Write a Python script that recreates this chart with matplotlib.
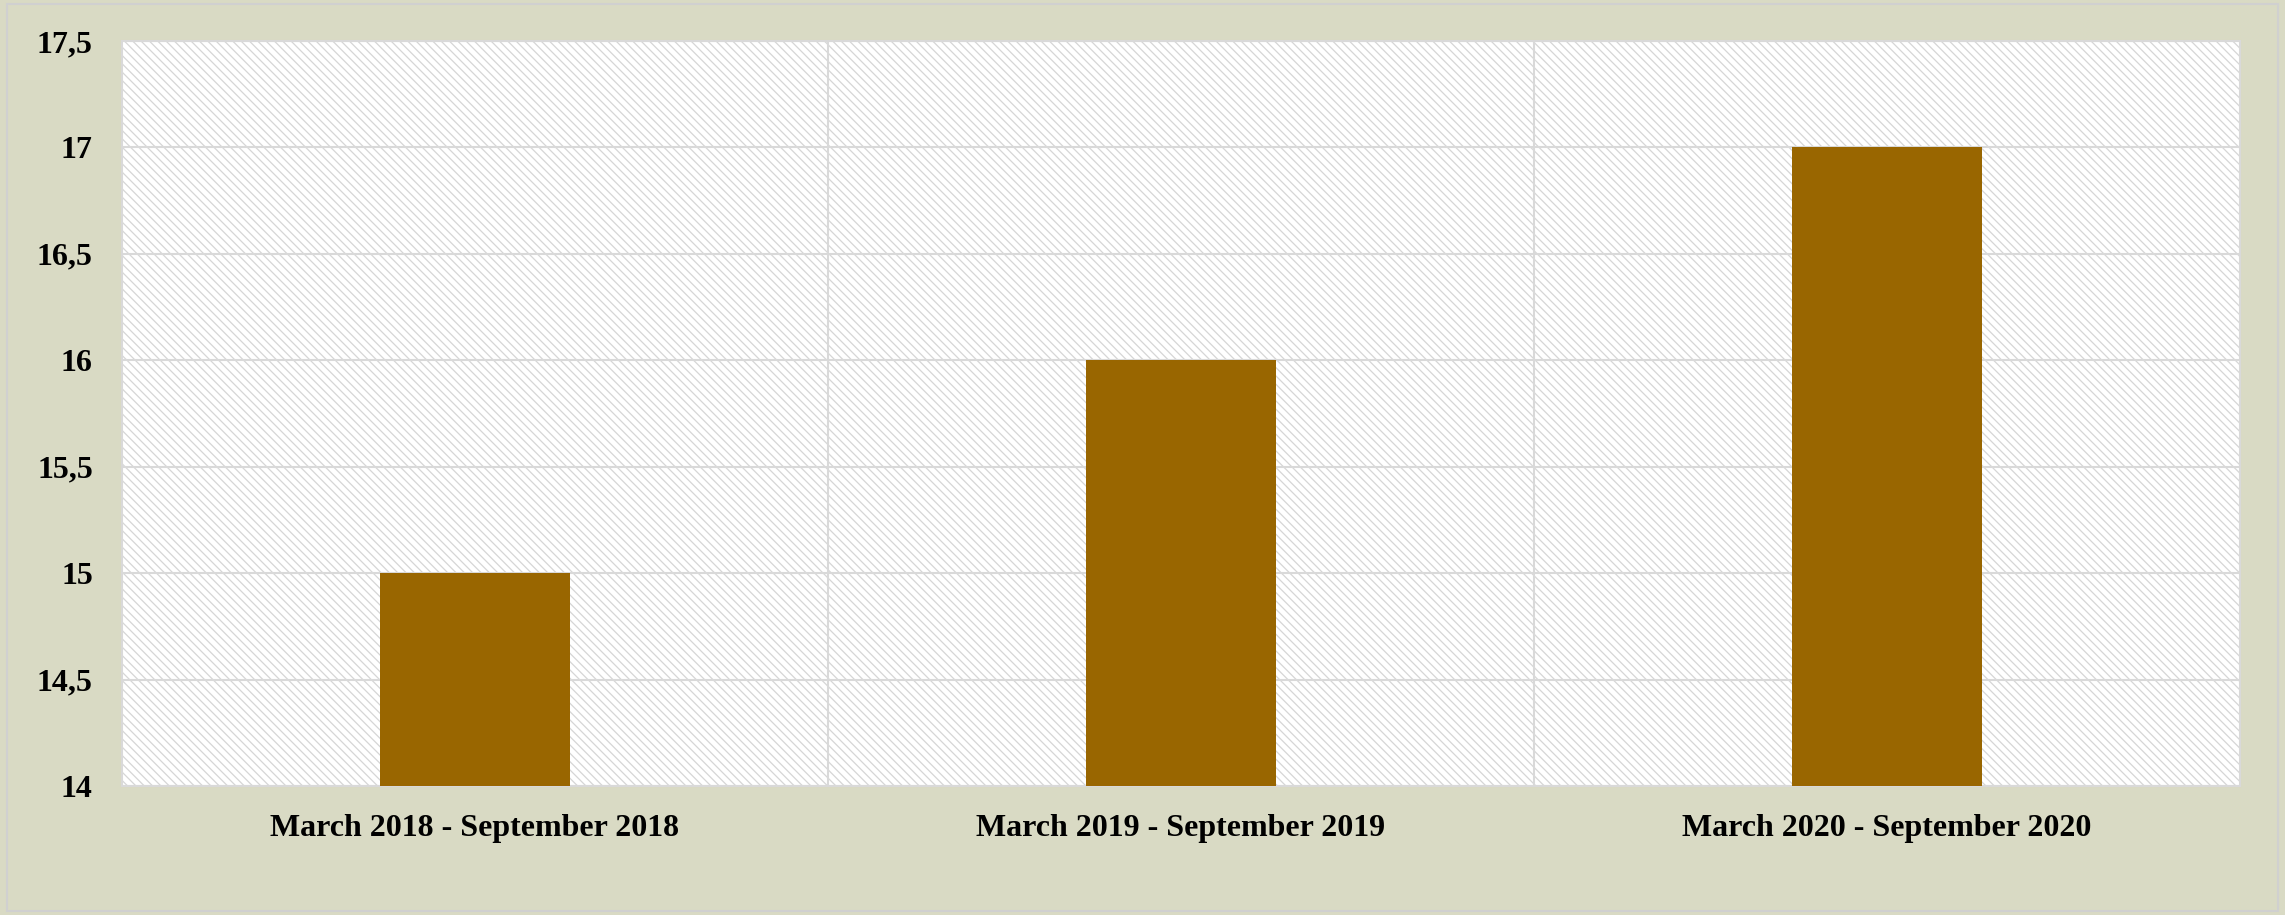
import matplotlib.pyplot as plt
from matplotlib.ticker import FuncFormatter, MultipleLocator
from matplotlib.patches import Rectangle

periods = ['March 2018 - September 2018', 'March 2019 - September 2019',
           'March 2020 - September 2020']
values = [15, 16, 17]

bg = '#d9dac4'
grid = '#d9d9d9'

plt.rcParams['font.family'] = ['Liberation Serif', 'DejaVu Serif']
plt.rcParams['hatch.color'] = '#d6d6d6'
plt.rcParams['hatch.linewidth'] = 0.9

fig = plt.figure(figsize=(22.85, 9.15), dpi=100, facecolor=bg)
ax = fig.add_axes([122 / 2285, 1 - 786 / 915, (2240 - 122) / 2285, (786 - 41) / 915])
ax.set_facecolor('white')

# hatched background of the plot area
ax.add_patch(Rectangle((0, 0), 1, 1, transform=ax.transAxes, facecolor='white',
                       edgecolor='#d6d6d6', hatch='\\\\\\\\', linewidth=0, zorder=0))

x = range(len(periods))
ax.bar(x, values, width=0.27, color='#996600', zorder=3)

ax.set_xlim(-0.5, len(periods) - 0.5)
ax.set_ylim(14, 17.5)
ax.yaxis.set_major_locator(MultipleLocator(0.5))
ax.yaxis.set_major_formatter(FuncFormatter(lambda v, p: f'{v:g}'.replace('.', ',')))
ax.set_xticks(list(x))
ax.set_xticklabels(periods)
ax.set_xticks([0.5, 1.5], minor=True)

ax.grid(axis='y', which='major', color=grid, linewidth=1.5, zorder=1)
ax.grid(axis='x', which='minor', color=grid, linewidth=1.5, zorder=1)
ax.set_axisbelow(True)

ax.tick_params(axis='both', which='both', length=0)
ax.tick_params(axis='y', pad=21, labelsize=23)
ax.tick_params(axis='x', pad=20, labelsize=23)
for lab in ax.get_xticklabels() + ax.get_yticklabels():
    lab.set_fontweight('bold')

for s in ax.spines.values():
    s.set_color(grid)
    s.set_linewidth(1.5)

# thin border around the whole chart
fig.patches.append(Rectangle((7 / 2285, 4 / 915), (2278 - 7) / 2285, (911 - 4) / 915,
                             transform=fig.transFigure, fill=False,
                             edgecolor='#d0d0d0', linewidth=1.5))

fig.savefig('out.png', dpi=100, facecolor=bg)
